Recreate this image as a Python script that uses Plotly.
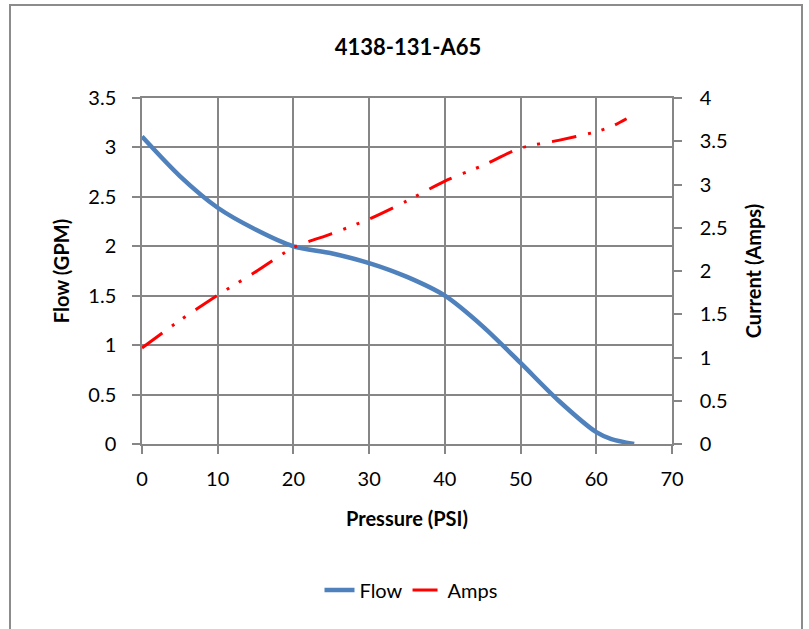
import plotly.graph_objects as go

# Data
pressure_flow = [0, 5, 10, 15, 20, 25, 30, 35, 40, 45, 50, 55, 60, 62, 65]
flow_gpm = [3.11, 2.71, 2.39, 2.17, 2.00, 1.93, 1.83, 1.69, 1.50, 1.19, 0.82, 0.44, 0.12, 0.05, 0.00]

pressure_amps = [0, 5, 10, 15, 20, 25, 30, 35, 40, 45, 50, 55, 60, 62, 64]
current_amps = [1.11, 1.43, 1.72, 1.99, 2.27, 2.43, 2.60, 2.81, 3.04, 3.22, 3.42, 3.51, 3.61, 3.67, 3.76]

x_ticks = [0, 10, 20, 30, 40, 50, 60, 70]
left_ticks = [0, 0.5, 1, 1.5, 2, 2.5, 3, 3.5]
right_ticks = [0, 0.5, 1, 1.5, 2, 2.5, 3, 3.5, 4]

FONT = "Lato"
GRID = "#868686"

fig = go.Figure()
fig.add_trace(go.Scatter(
    x=pressure_flow, y=flow_gpm, name="Flow", mode="lines",
    line=dict(color="#4F81BD", width=4.5, shape="spline", smoothing=0.8),
    yaxis="y"))
fig.add_trace(go.Scatter(
    x=pressure_amps, y=current_amps, name="Amps", mode="lines",
    line=dict(color="#FF0000", width=3, shape="spline", smoothing=0.8,
              dash="25px,12px,3px,11px,3px,12px"),
    yaxis="y2"))

W, H = 809, 629
L, R, T, B = 142, 672, 98, 444

def px_x(p):
    return (p - L) / (R - L)

def px_y(p):
    return (B - p) / (B - T)

fig.update_layout(
    width=W, height=H,
    margin=dict(l=L, r=W - R, t=T, b=H - B),
    paper_bgcolor="white", plot_bgcolor="white",
    font=dict(family=FONT, size=20, color="black"),
    title=dict(text="<b>4138-131-A65</b>", x=408 / W, xref="container", xanchor="center",
               y=1 - 47 / H, yref="container", yanchor="middle",
               font=dict(family=FONT, size=22, color="black")),
    showlegend=True,
    legend=dict(orientation="h", x=px_x(411), xanchor="center", y=px_y(590), yanchor="middle",
                xref="paper", yref="paper",
                font=dict(family=FONT, size=20, color="black"), bgcolor="rgba(0,0,0,0)"),
    xaxis=dict(range=[0, 70], tickvals=x_ticks, showgrid=True, gridcolor=GRID, gridwidth=1.5,
               showline=True, linecolor=GRID, linewidth=1.5, mirror=True,
               ticks="outside", ticklen=8, tickcolor=GRID, tickwidth=1.5,
               zeroline=False, tickfont=dict(size=20), ticklabelstandoff=8,
               title=dict(text="<b>Pressure (PSI)</b>", font=dict(size=20), standoff=23)),
    yaxis=dict(range=[0, 3.5], tickvals=left_ticks, showgrid=True, gridcolor=GRID, gridwidth=1.5,
               showline=True, linecolor=GRID, linewidth=1.5, mirror=True,
               ticks="outside", ticklen=8, tickcolor=GRID, tickwidth=1.5,
               zeroline=False, tickfont=dict(size=20), ticklabelstandoff=12,
               title=dict(text="<b>Flow (GPM)</b>", font=dict(size=20), standoff=13)),
    yaxis2=dict(range=[0, 4], tickvals=right_ticks, overlaying="y", side="right",
                showgrid=False, showline=True, linecolor=GRID, linewidth=1.5,
                ticks="outside", ticklen=8, tickcolor=GRID, tickwidth=1.5,
                zeroline=False, tickfont=dict(size=20), ticklabelstandoff=14,
                title=dict(text="<b>Current (Amps)</b>", font=dict(size=20), standoff=20)),
    shapes=[dict(type="rect", xref="paper", yref="paper",
                 x0=px_x(10), x1=px_x(802), y0=px_y(660), y1=px_y(5),
                 line=dict(color="#8C8C8C", width=2), fillcolor="rgba(0,0,0,0)", layer="below")],
)

# remove the default page margin so the figure sits at the window's top-left corner
fig.write_html("out.html",
               config={"displayModeBar": False},
               post_script="document.body.style.margin='0';document.body.style.overflow='hidden';")
